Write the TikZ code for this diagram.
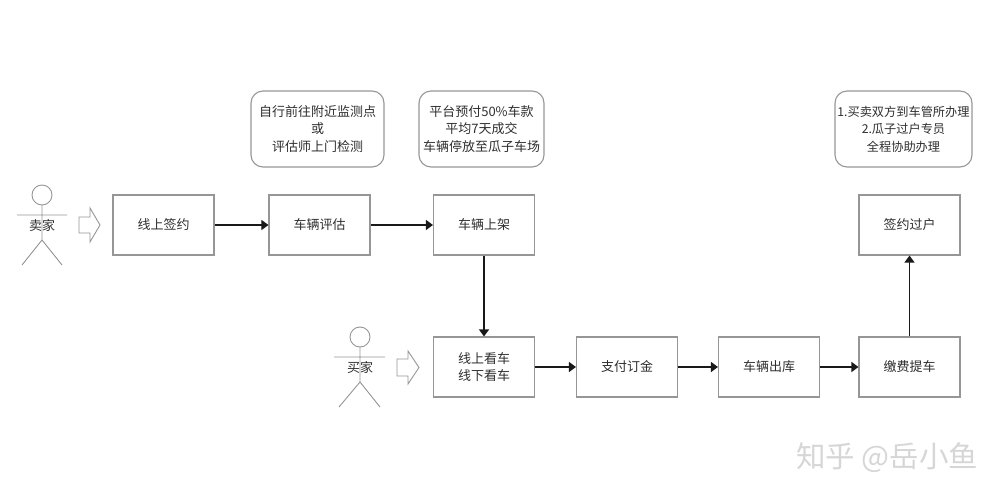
\documentclass[tikz,border=0pt]{standalone}
\usepackage{fontspec}
\setmainfont{Noto Sans CJK SC}
\usetikzlibrary{arrows.meta}
\definecolor{edgegrey}{HTML}{969696}
\definecolor{textgrey}{HTML}{2E2E2E}
\definecolor{markgrey}{HTML}{D6D6D6}
\tikzset{
  x=1pt,y=-1pt,
  every node/.style={font=\fontsize{13}{17.5}\selectfont,text=textgrey,align=center,inner sep=0pt},
  stepbox/.style={draw=edgegrey,line width=1.1pt,minimum width=101pt,minimum height=60pt},
  notebox/.style={draw=edgegrey,line width=1.1pt,rounded corners=12pt,minimum height=76pt},
  link/.style={draw=black!90,line width=1.2pt,-{Triangle[length=7pt,width=10pt]}},
  figure/.style={draw=edgegrey,line width=.9pt},
  bigarrow/.style={draw=edgegrey,line width=.9pt,fill=white,line join=miter},
}
\begin{document}
\begin{tikzpicture}
\useasboundingbox (0,0) rectangle (1007,500);
% notes
\node[notebox,minimum width=133pt] (n1) at (317.5,129) {自行前往附近监测点\\或\\评估师上门检测};
\node[notebox,minimum width=125pt] (n2) at (481.5,129) {平台预付50\%车款\\平均7天成交\\车辆停放至瓜子车场};
\node[notebox,minimum width=137pt,font=\fontsize{12.2}{17.5}\selectfont] (n3) at (903.5,129) {1.买卖双方到车管所办理\\2.瓜子过户专员\\全程协助办理};
% process
\node[stepbox] (a) at (163.5,225) {线上签约};
\node[stepbox] (b) at (319.5,225) {车辆评估};
\node[stepbox] (c) at (484,225) {车辆上架};
\node[stepbox] (d) at (484,367) {线上看车\\线下看车};
\node[stepbox] (e) at (627,367) {支付订金};
\node[stepbox] (f) at (769,367) {车辆出库};
\node[stepbox] (g) at (909.5,367) {缴费提车};
\node[stepbox] (h) at (909.5,225) {签约过户};
\draw[link] (a) -- (b);
\draw[link] (b) -- (c);
\draw[link] (c) -- (d);
\draw[link] (d) -- (e);
\draw[link] (e) -- (f);
\draw[link] (f) -- (g);
\draw[link] (g) -- (h);
% seller
\draw[figure] (42,195) circle (10);
\draw[figure] (42,205) -- (42,240) (17,215) -- (67,215) (22,265) -- (42,240) -- (62,265);
\node (seller) at (42,226) {卖家};
% buyer
\draw[figure] (360,337) circle (10);
\draw[figure] (360,347) -- (360,382) (334,357) -- (385,357) (339,407) -- (360,382) -- (380,407);
\node (buyer) at (360,368) {买家};
% block arrows
\draw[bigarrow] (79,217) -- (90,217) -- (90,208) -- (100,225) -- (90,242) -- (90,233) -- (79,233) -- cycle;
\draw[bigarrow] (397,359) -- (408,359) -- (408,351) -- (419,367.5) -- (408,384) -- (408,376) -- (397,376) -- cycle;
% watermark
\node[font=\fontsize{29.5}{32}\selectfont,text=markgrey,anchor=west] (mark) at (796,458) {知乎 @岳小鱼};
\end{tikzpicture}
\end{document}
